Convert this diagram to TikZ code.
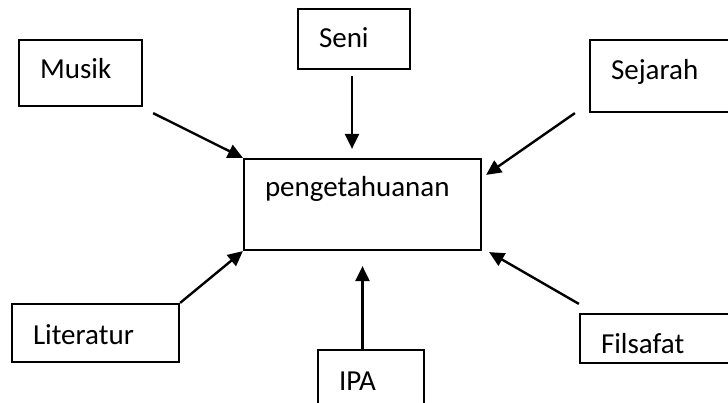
\documentclass[tikz,border=0pt]{standalone}
\usepackage{fontspec}
\setmainfont{Carlito}
\usetikzlibrary{arrows.meta}

\begin{document}
\begin{tikzpicture}[x=1pt, y=-1pt,
  box/.style={draw, line width=2.2pt, align=left, inner xsep=21pt, inner ysep=0pt,
    font=\fontsize{29}{34}\selectfont},
  arr/.style={line width=2.4pt, -{Triangle[length=15pt, width=14pt]}}]
  \useasboundingbox (0,0) rectangle (728,403);
  % centre box
  \node[box, text width=195pt, minimum height=91pt, text height=0pt, text depth=15pt]
    (pengetahuan) at (362.5,204.5) {pengetahuanan};
  % outer boxes (some run off the page)
  \node[box, text width=81pt, minimum height=66pt, text height=12pt, text depth=0pt]
    (musik) at (80.5,73) {Musik};
  \node[box, text width=70pt, minimum height=60pt, text height=18pt, text depth=0pt]
    (seni) at (354,39) {Seni};
  \node[box, text width=113pt, minimum height=72pt, text height=8pt, text depth=0pt]
    (sejarah) at (667.5,76) {Sejarah};
  \node[box, text width=125pt, minimum height=58pt, text height=22pt, text depth=0pt]
    (literatur) at (95.5,333) {Literatur};
  \node[box, text width=123pt, minimum height=49pt, text height=29pt, text depth=0pt]
    (filsafat) at (662.5,338.5) {Filsafat};
  \node[box, text width=64pt, minimum height=80pt, text height=0pt, text depth=0pt]
    (ipa) at (371,390) {IPA};
  % arrows into the centre box
  \draw[arr] ([shift={(10,6)}]musik.south east) -- (pengetahuan.north west);
  \draw[arr, shorten <=6pt, shorten >=9pt] ([shift={(-2,0)}]seni.south)
    -- ([shift={(-2,0)}]seni.south |- pengetahuan.north);
  \draw[arr] ([shift={(-14,0)}]sejarah.south west) -- ([shift={(4,17)}]pengetahuan.north east);
  \draw[arr] (literatur.north east) -- (pengetahuan.south west);
  \draw[arr, shorten >=15pt] (pengetahuan.south |- ipa.north) -- (pengetahuan.south);
  \draw[arr] ([shift={(0,-9)}]filsafat.north west) -- ([shift={(7,1)}]pengetahuan.south east);
\end{tikzpicture}
\end{document}
